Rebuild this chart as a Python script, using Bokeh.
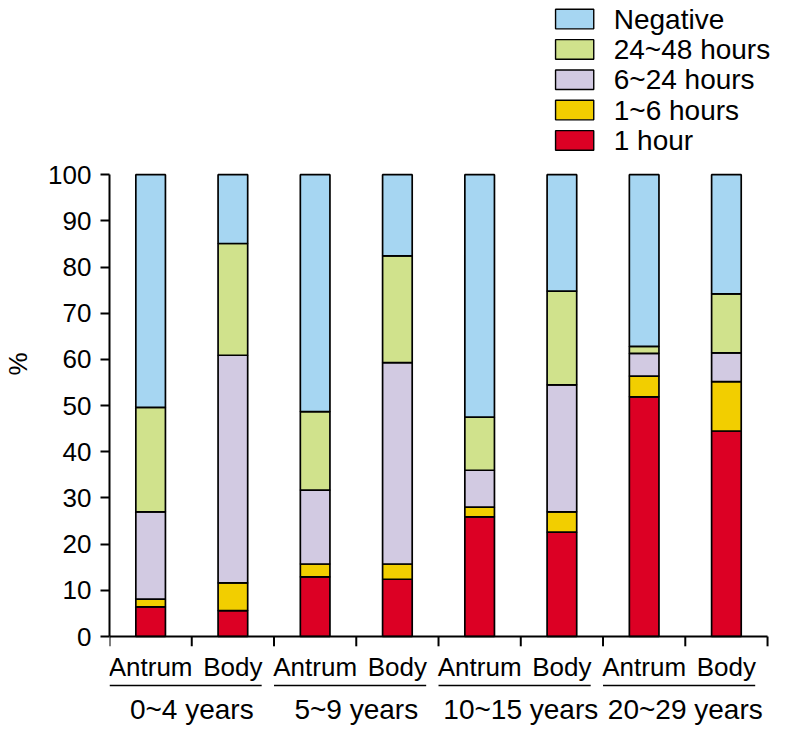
from bokeh.plotting import figure
from bokeh.models import ColumnDataSource, Range1d, FixedTicker
from bokeh.core.properties import value
from bokeh.embed import file_html
from bokeh.resources import INLINE

# ---------------- data ----------------
groups = ["0~4 years", "5~9 years", "10~15 years", "20~29 years"]
sites = ["Antrum", "Body"]
series = ["1 hour", "1~6 hours", "6~24 hours", "24~48 hours", "Negative"]

one_hour = [6.4, 5.6, 12.9, 12.4, 25.9, 22.6, 51.9, 44.5]
one_to_six = [1.7, 6.0, 2.8, 3.3, 2.1, 4.4, 4.5, 10.7]
six_to_24 = [18.9, 49.3, 16.0, 43.6, 8.0, 27.5, 4.9, 6.2]
h24_to_48 = [22.6, 24.2, 17.0, 23.1, 11.5, 20.3, 1.5, 12.8]
negative = [50.4, 14.9, 51.3, 17.6, 52.5, 25.2, 37.2, 25.8]

y_ticks = list(range(0, 101, 10))

colors = ["#DC0024", "#F2CE00", "#D2CAE2", "#D0E28C", "#A6D6F2"]

# ---------------- layout constants ----------------
FONT = value("Liberation Sans")
PX_Y = 4.72  # reference pixels per % unit (offsets below/above the bars)

n_bars = len(groups) * len(sites)
xs = [i + 0.5 for i in range(n_bars)]
sub_labels = [sites[i % len(sites)] for i in range(n_bars)]

src = ColumnDataSource(dict(
    x=xs,
    s0=one_hour, s1=one_to_six, s2=six_to_24, s3=h24_to_48, s4=negative,
))
keys = ["s0", "s1", "s2", "s3", "s4"]

p = figure(
    width=770, height=727,
    x_range=Range1d(0, 8.036), y_range=Range1d(-19.70, 137.71),
    x_axis_location=None,
    output_backend="svg", toolbar_location=None,
    min_border_left=105, min_border_right=0, min_border_top=0, min_border_bottom=0,
)
p.outline_line_color = None
p.xgrid.visible = False
p.ygrid.visible = False
p.background_fill_color = "white"
p.border_fill_color = "white"

# stacked bars
p.vbar_stack(keys, x="x", width=0.36, source=src, fill_color=colors,
             line_color="black", line_width=1.7)

# y axis
ax = p.yaxis[0]
ax.ticker = FixedTicker(ticks=y_ticks)
ax.bounds = (0, 100)
ax.axis_line_width = 2
ax.major_tick_line_width = 2
ax.major_tick_in = 0
ax.major_tick_out = 9
ax.minor_tick_line_color = None
ax.major_label_standoff = 9
ax.major_label_text_font = "Liberation Sans"
ax.major_label_text_font_size = "26px"
ax.major_label_text_color = "black"
ax.axis_label = "%"
ax.axis_label_text_font = "Liberation Sans"
ax.axis_label_text_font_size = "26px"
ax.axis_label_text_font_style = "normal"
ax.axis_label_text_color = "black"
ax.axis_label_standoff = 12

# x axis line and tick marks (category boundaries)
p.segment(x0=[0], y0=[0], x1=[n_bars], y1=[0], line_color="black", line_width=2)
bounds = list(range(n_bars + 1))
p.segment(x0=bounds, y0=[0] * len(bounds), x1=bounds, y1=[-10 / PX_Y] * len(bounds),
          line_color="black", line_width=2)

# sub labels (Antrum / Body)
p.text(x=xs, y=[-31 / PX_Y] * n_bars, text=sub_labels, text_font=FONT,
       text_font_size="26px", text_align="center", text_baseline="middle",
       text_color="black")

# group underline and group labels
g_start = [2 * g for g in range(len(groups))]
p.segment(x0=g_start, y0=[-50 / PX_Y] * len(groups),
          x1=[g + 1.85 for g in g_start], y1=[-50 / PX_Y] * len(groups),
          line_color="black", line_width=1.6)
p.text(x=[g + 1.0 for g in g_start], y=[-75 / PX_Y] * len(groups), text=groups,
       text_font=FONT, text_font_size="28px", text_align="center",
       text_baseline="middle", text_color="black")

# legend (top to bottom: Negative ... 1 hour)
leg_names = series[::-1]
leg_colors = colors[::-1]
leg_y = [(650 - (19 + 31 * i)) / PX_Y for i in range(len(leg_names))]
p.rect(x=[5.655] * len(leg_names), y=leg_y,
       width=39 / 84, height=20 / PX_Y, fill_color=leg_colors,
       line_color="black", line_width=1.4)
p.text(x=[6.13] * len(leg_names), y=leg_y, text=leg_names,
       text_font=FONT, text_font_size="28px", text_align="left",
       text_baseline="middle", text_color="black")

open("out.html", "w").write(file_html(p, INLINE))
